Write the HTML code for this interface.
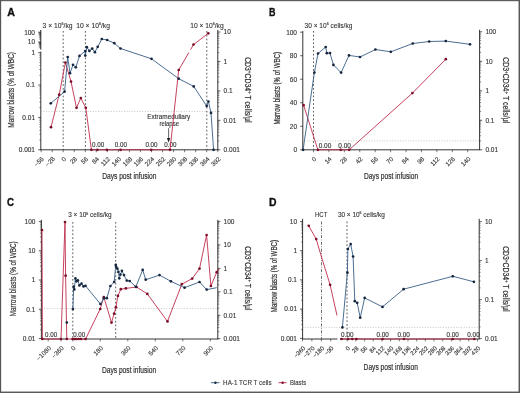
<!DOCTYPE html>
<html><head><meta charset="utf-8"><style>
html,body{margin:0;padding:0;background:#fff;}
body{width:520px;height:393px;overflow:hidden;position:relative;}
svg{position:absolute;left:0;top:0;font-family:"Liberation Sans", sans-serif;will-change:transform;}
.frame{position:absolute;left:0;top:0;width:520px;height:393px;box-sizing:border-box;border-top:1.2px solid #626262;border-left:1.1px solid #585858;border-right:1.4px solid #5a5a5a;border-bottom:1.4px solid #5c5c5c;}
</style></head><body>
<svg width="520" height="393" viewBox="0 0 520 393">
<rect x="0" y="0" width="520" height="393" fill="#ffffff"/>
<text x="7.2" y="15.8" font-size="11.0" text-anchor="start" font-weight="bold" fill="#111" stroke="#111" stroke-width="0.35" textLength="7.7" lengthAdjust="spacingAndGlyphs">A</text>
<line x1="40.8" y1="30.0" x2="40.8" y2="49.6" stroke="#1e1e1e" stroke-width="1.0"/>
<line x1="40.8" y1="51.6" x2="40.8" y2="149.8" stroke="#1e1e1e" stroke-width="0.9"/>
<line x1="38.8" y1="39.05" x2="40.8" y2="39.05" stroke="#1e1e1e" stroke-width="0.5"/>
<line x1="38.8" y1="37.32" x2="40.8" y2="37.32" stroke="#1e1e1e" stroke-width="0.5"/>
<line x1="38.8" y1="36.1" x2="40.8" y2="36.1" stroke="#1e1e1e" stroke-width="0.5"/>
<line x1="38.8" y1="35.15" x2="40.8" y2="35.15" stroke="#1e1e1e" stroke-width="0.5"/>
<line x1="38.8" y1="34.37" x2="40.8" y2="34.37" stroke="#1e1e1e" stroke-width="0.5"/>
<line x1="38.8" y1="33.72" x2="40.8" y2="33.72" stroke="#1e1e1e" stroke-width="0.5"/>
<line x1="38.8" y1="33.15" x2="40.8" y2="33.15" stroke="#1e1e1e" stroke-width="0.5"/>
<line x1="38.8" y1="32.65" x2="40.8" y2="32.65" stroke="#1e1e1e" stroke-width="0.5"/>
<line x1="38.8" y1="47.73" x2="40.8" y2="47.73" stroke="#1e1e1e" stroke-width="0.5"/>
<line x1="38.8" y1="46.29" x2="40.8" y2="46.29" stroke="#1e1e1e" stroke-width="0.5"/>
<line x1="38.8" y1="45.26" x2="40.8" y2="45.26" stroke="#1e1e1e" stroke-width="0.5"/>
<line x1="38.8" y1="44.47" x2="40.8" y2="44.47" stroke="#1e1e1e" stroke-width="0.5"/>
<line x1="38.8" y1="43.82" x2="40.8" y2="43.82" stroke="#1e1e1e" stroke-width="0.5"/>
<line x1="38.8" y1="43.27" x2="40.8" y2="43.27" stroke="#1e1e1e" stroke-width="0.5"/>
<line x1="38.8" y1="42.79" x2="40.8" y2="42.79" stroke="#1e1e1e" stroke-width="0.5"/>
<line x1="38.8" y1="42.38" x2="40.8" y2="42.38" stroke="#1e1e1e" stroke-width="0.5"/>
<line x1="39.3" y1="75.25" x2="40.8" y2="75.25" stroke="#1e1e1e" stroke-width="0.5"/>
<line x1="39.3" y1="69.54" x2="40.8" y2="69.54" stroke="#1e1e1e" stroke-width="0.5"/>
<line x1="39.3" y1="65.49" x2="40.8" y2="65.49" stroke="#1e1e1e" stroke-width="0.5"/>
<line x1="39.3" y1="62.35" x2="40.8" y2="62.35" stroke="#1e1e1e" stroke-width="0.5"/>
<line x1="39.3" y1="59.79" x2="40.8" y2="59.79" stroke="#1e1e1e" stroke-width="0.5"/>
<line x1="39.3" y1="57.62" x2="40.8" y2="57.62" stroke="#1e1e1e" stroke-width="0.5"/>
<line x1="39.3" y1="55.74" x2="40.8" y2="55.74" stroke="#1e1e1e" stroke-width="0.5"/>
<line x1="39.3" y1="54.08" x2="40.8" y2="54.08" stroke="#1e1e1e" stroke-width="0.5"/>
<line x1="39.3" y1="107.65" x2="40.8" y2="107.65" stroke="#1e1e1e" stroke-width="0.5"/>
<line x1="39.3" y1="101.94" x2="40.8" y2="101.94" stroke="#1e1e1e" stroke-width="0.5"/>
<line x1="39.3" y1="97.89" x2="40.8" y2="97.89" stroke="#1e1e1e" stroke-width="0.5"/>
<line x1="39.3" y1="94.75" x2="40.8" y2="94.75" stroke="#1e1e1e" stroke-width="0.5"/>
<line x1="39.3" y1="92.19" x2="40.8" y2="92.19" stroke="#1e1e1e" stroke-width="0.5"/>
<line x1="39.3" y1="90.02" x2="40.8" y2="90.02" stroke="#1e1e1e" stroke-width="0.5"/>
<line x1="39.3" y1="88.14" x2="40.8" y2="88.14" stroke="#1e1e1e" stroke-width="0.5"/>
<line x1="39.3" y1="86.48" x2="40.8" y2="86.48" stroke="#1e1e1e" stroke-width="0.5"/>
<line x1="39.3" y1="140.05" x2="40.8" y2="140.05" stroke="#1e1e1e" stroke-width="0.5"/>
<line x1="39.3" y1="134.34" x2="40.8" y2="134.34" stroke="#1e1e1e" stroke-width="0.5"/>
<line x1="39.3" y1="130.29" x2="40.8" y2="130.29" stroke="#1e1e1e" stroke-width="0.5"/>
<line x1="39.3" y1="127.15" x2="40.8" y2="127.15" stroke="#1e1e1e" stroke-width="0.5"/>
<line x1="39.3" y1="124.59" x2="40.8" y2="124.59" stroke="#1e1e1e" stroke-width="0.5"/>
<line x1="39.3" y1="122.42" x2="40.8" y2="122.42" stroke="#1e1e1e" stroke-width="0.5"/>
<line x1="39.3" y1="120.54" x2="40.8" y2="120.54" stroke="#1e1e1e" stroke-width="0.5"/>
<line x1="39.3" y1="118.88" x2="40.8" y2="118.88" stroke="#1e1e1e" stroke-width="0.5"/>
<line x1="38.199999999999996" y1="32.2" x2="40.8" y2="32.2" stroke="#1e1e1e" stroke-width="0.7"/>
<line x1="38.199999999999996" y1="42.0" x2="40.8" y2="42.0" stroke="#1e1e1e" stroke-width="0.7"/>
<line x1="38.199999999999996" y1="52.6" x2="40.8" y2="52.6" stroke="#1e1e1e" stroke-width="0.7"/>
<line x1="38.199999999999996" y1="85.0" x2="40.8" y2="85.0" stroke="#1e1e1e" stroke-width="0.7"/>
<line x1="38.199999999999996" y1="117.4" x2="40.8" y2="117.4" stroke="#1e1e1e" stroke-width="0.7"/>
<line x1="38.199999999999996" y1="149.8" x2="40.8" y2="149.8" stroke="#1e1e1e" stroke-width="0.7"/>
<text x="35.0" y="34.5" font-size="6.5" text-anchor="end" font-weight="normal" fill="#333333" stroke="#333333" stroke-width="0.12">100</text>
<text x="35.0" y="44.3" font-size="6.5" text-anchor="end" font-weight="normal" fill="#333333" stroke="#333333" stroke-width="0.12">10</text>
<text x="35.0" y="54.9" font-size="6.5" text-anchor="end" font-weight="normal" fill="#333333" stroke="#333333" stroke-width="0.12">1</text>
<text x="35.0" y="87.3" font-size="6.5" text-anchor="end" font-weight="normal" fill="#333333" stroke="#333333" stroke-width="0.12">0.1</text>
<text x="35.0" y="119.7" font-size="6.5" text-anchor="end" font-weight="normal" fill="#333333" stroke="#333333" stroke-width="0.12">0.01</text>
<text x="35.0" y="152.1" font-size="6.5" text-anchor="end" font-weight="normal" fill="#333333" stroke="#333333" stroke-width="0.12">0.001</text>
<line x1="217.8" y1="29.8" x2="217.8" y2="149.8" stroke="#1e1e1e" stroke-width="0.9"/>
<line x1="217.8" y1="52.58" x2="219.3" y2="52.58" stroke="#1e1e1e" stroke-width="0.5"/>
<line x1="217.8" y1="47.4" x2="219.3" y2="47.4" stroke="#1e1e1e" stroke-width="0.5"/>
<line x1="217.8" y1="43.72" x2="219.3" y2="43.72" stroke="#1e1e1e" stroke-width="0.5"/>
<line x1="217.8" y1="40.87" x2="219.3" y2="40.87" stroke="#1e1e1e" stroke-width="0.5"/>
<line x1="217.8" y1="38.53" x2="219.3" y2="38.53" stroke="#1e1e1e" stroke-width="0.5"/>
<line x1="217.8" y1="36.56" x2="219.3" y2="36.56" stroke="#1e1e1e" stroke-width="0.5"/>
<line x1="217.8" y1="34.85" x2="219.3" y2="34.85" stroke="#1e1e1e" stroke-width="0.5"/>
<line x1="217.8" y1="33.35" x2="219.3" y2="33.35" stroke="#1e1e1e" stroke-width="0.5"/>
<line x1="217.8" y1="82.03" x2="219.3" y2="82.03" stroke="#1e1e1e" stroke-width="0.5"/>
<line x1="217.8" y1="76.85" x2="219.3" y2="76.85" stroke="#1e1e1e" stroke-width="0.5"/>
<line x1="217.8" y1="73.17" x2="219.3" y2="73.17" stroke="#1e1e1e" stroke-width="0.5"/>
<line x1="217.8" y1="70.32" x2="219.3" y2="70.32" stroke="#1e1e1e" stroke-width="0.5"/>
<line x1="217.8" y1="67.98" x2="219.3" y2="67.98" stroke="#1e1e1e" stroke-width="0.5"/>
<line x1="217.8" y1="66.01" x2="219.3" y2="66.01" stroke="#1e1e1e" stroke-width="0.5"/>
<line x1="217.8" y1="64.3" x2="219.3" y2="64.3" stroke="#1e1e1e" stroke-width="0.5"/>
<line x1="217.8" y1="62.8" x2="219.3" y2="62.8" stroke="#1e1e1e" stroke-width="0.5"/>
<line x1="217.8" y1="111.48" x2="219.3" y2="111.48" stroke="#1e1e1e" stroke-width="0.5"/>
<line x1="217.8" y1="106.3" x2="219.3" y2="106.3" stroke="#1e1e1e" stroke-width="0.5"/>
<line x1="217.8" y1="102.62" x2="219.3" y2="102.62" stroke="#1e1e1e" stroke-width="0.5"/>
<line x1="217.8" y1="99.77" x2="219.3" y2="99.77" stroke="#1e1e1e" stroke-width="0.5"/>
<line x1="217.8" y1="97.43" x2="219.3" y2="97.43" stroke="#1e1e1e" stroke-width="0.5"/>
<line x1="217.8" y1="95.46" x2="219.3" y2="95.46" stroke="#1e1e1e" stroke-width="0.5"/>
<line x1="217.8" y1="93.75" x2="219.3" y2="93.75" stroke="#1e1e1e" stroke-width="0.5"/>
<line x1="217.8" y1="92.25" x2="219.3" y2="92.25" stroke="#1e1e1e" stroke-width="0.5"/>
<line x1="217.8" y1="140.93" x2="219.3" y2="140.93" stroke="#1e1e1e" stroke-width="0.5"/>
<line x1="217.8" y1="135.75" x2="219.3" y2="135.75" stroke="#1e1e1e" stroke-width="0.5"/>
<line x1="217.8" y1="132.07" x2="219.3" y2="132.07" stroke="#1e1e1e" stroke-width="0.5"/>
<line x1="217.8" y1="129.22" x2="219.3" y2="129.22" stroke="#1e1e1e" stroke-width="0.5"/>
<line x1="217.8" y1="126.88" x2="219.3" y2="126.88" stroke="#1e1e1e" stroke-width="0.5"/>
<line x1="217.8" y1="124.91" x2="219.3" y2="124.91" stroke="#1e1e1e" stroke-width="0.5"/>
<line x1="217.8" y1="123.2" x2="219.3" y2="123.2" stroke="#1e1e1e" stroke-width="0.5"/>
<line x1="217.8" y1="121.7" x2="219.3" y2="121.7" stroke="#1e1e1e" stroke-width="0.5"/>
<line x1="217.8" y1="32.0" x2="220.4" y2="32.0" stroke="#1e1e1e" stroke-width="0.7"/>
<line x1="217.8" y1="61.45" x2="220.4" y2="61.45" stroke="#1e1e1e" stroke-width="0.7"/>
<line x1="217.8" y1="90.9" x2="220.4" y2="90.9" stroke="#1e1e1e" stroke-width="0.7"/>
<line x1="217.8" y1="120.35" x2="220.4" y2="120.35" stroke="#1e1e1e" stroke-width="0.7"/>
<line x1="217.8" y1="149.8" x2="220.4" y2="149.8" stroke="#1e1e1e" stroke-width="0.7"/>
<text x="223.6" y="34.3" font-size="6.5" text-anchor="start" font-weight="normal" fill="#333333" stroke="#333333" stroke-width="0.12">10</text>
<text x="223.6" y="63.75" font-size="6.5" text-anchor="start" font-weight="normal" fill="#333333" stroke="#333333" stroke-width="0.12">1</text>
<text x="223.6" y="93.2" font-size="6.5" text-anchor="start" font-weight="normal" fill="#333333" stroke="#333333" stroke-width="0.12">0.1</text>
<text x="223.6" y="122.65" font-size="6.5" text-anchor="start" font-weight="normal" fill="#333333" stroke="#333333" stroke-width="0.12">0.01</text>
<text x="223.6" y="152.1" font-size="6.5" text-anchor="start" font-weight="normal" fill="#333333" stroke="#333333" stroke-width="0.12">0.001</text>
<line x1="40.349999999999994" y1="149.8" x2="218.25" y2="149.8" stroke="#1e1e1e" stroke-width="0.9"/>
<text x="44.32" y="159.4" font-size="6.3" text-anchor="end" font-weight="normal" fill="#333333" stroke="#333333" stroke-width="0.12" transform="rotate(-45 44.32 159.4)">−56</text>
<line x1="41.12" y1="149.8" x2="41.12" y2="152.20000000000002" stroke="#1e1e1e" stroke-width="0.6"/>
<text x="55.36" y="159.4" font-size="6.3" text-anchor="end" font-weight="normal" fill="#333333" stroke="#333333" stroke-width="0.12" transform="rotate(-45 55.36 159.4)">−28</text>
<line x1="52.16" y1="149.8" x2="52.16" y2="152.20000000000002" stroke="#1e1e1e" stroke-width="0.6"/>
<text x="66.4" y="159.4" font-size="6.3" text-anchor="end" font-weight="normal" fill="#333333" stroke="#333333" stroke-width="0.12" transform="rotate(-45 66.4 159.4)">0</text>
<line x1="63.2" y1="149.8" x2="63.2" y2="152.20000000000002" stroke="#1e1e1e" stroke-width="0.6"/>
<text x="77.44" y="159.4" font-size="6.3" text-anchor="end" font-weight="normal" fill="#333333" stroke="#333333" stroke-width="0.12" transform="rotate(-45 77.44 159.4)">28</text>
<line x1="74.24" y1="149.8" x2="74.24" y2="152.20000000000002" stroke="#1e1e1e" stroke-width="0.6"/>
<text x="88.48" y="159.4" font-size="6.3" text-anchor="end" font-weight="normal" fill="#333333" stroke="#333333" stroke-width="0.12" transform="rotate(-45 88.48 159.4)">56</text>
<line x1="85.28" y1="149.8" x2="85.28" y2="152.20000000000002" stroke="#1e1e1e" stroke-width="0.6"/>
<text x="99.51" y="159.4" font-size="6.3" text-anchor="end" font-weight="normal" fill="#333333" stroke="#333333" stroke-width="0.12" transform="rotate(-45 99.51 159.4)">84</text>
<line x1="96.31" y1="149.8" x2="96.31" y2="152.20000000000002" stroke="#1e1e1e" stroke-width="0.6"/>
<text x="110.55" y="159.4" font-size="6.3" text-anchor="end" font-weight="normal" fill="#333333" stroke="#333333" stroke-width="0.12" transform="rotate(-45 110.55 159.4)">112</text>
<line x1="107.35" y1="149.8" x2="107.35" y2="152.20000000000002" stroke="#1e1e1e" stroke-width="0.6"/>
<text x="121.59" y="159.4" font-size="6.3" text-anchor="end" font-weight="normal" fill="#333333" stroke="#333333" stroke-width="0.12" transform="rotate(-45 121.59 159.4)">140</text>
<line x1="118.39" y1="149.8" x2="118.39" y2="152.20000000000002" stroke="#1e1e1e" stroke-width="0.6"/>
<text x="132.63" y="159.4" font-size="6.3" text-anchor="end" font-weight="normal" fill="#333333" stroke="#333333" stroke-width="0.12" transform="rotate(-45 132.63 159.4)">168</text>
<line x1="129.43" y1="149.8" x2="129.43" y2="152.20000000000002" stroke="#1e1e1e" stroke-width="0.6"/>
<text x="143.66" y="159.4" font-size="6.3" text-anchor="end" font-weight="normal" fill="#333333" stroke="#333333" stroke-width="0.12" transform="rotate(-45 143.66 159.4)">196</text>
<line x1="140.46" y1="149.8" x2="140.46" y2="152.20000000000002" stroke="#1e1e1e" stroke-width="0.6"/>
<text x="154.7" y="159.4" font-size="6.3" text-anchor="end" font-weight="normal" fill="#333333" stroke="#333333" stroke-width="0.12" transform="rotate(-45 154.7 159.4)">224</text>
<line x1="151.5" y1="149.8" x2="151.5" y2="152.20000000000002" stroke="#1e1e1e" stroke-width="0.6"/>
<text x="165.74" y="159.4" font-size="6.3" text-anchor="end" font-weight="normal" fill="#333333" stroke="#333333" stroke-width="0.12" transform="rotate(-45 165.74 159.4)">252</text>
<line x1="162.54" y1="149.8" x2="162.54" y2="152.20000000000002" stroke="#1e1e1e" stroke-width="0.6"/>
<text x="176.78" y="159.4" font-size="6.3" text-anchor="end" font-weight="normal" fill="#333333" stroke="#333333" stroke-width="0.12" transform="rotate(-45 176.78 159.4)">280</text>
<line x1="173.58" y1="149.8" x2="173.58" y2="152.20000000000002" stroke="#1e1e1e" stroke-width="0.6"/>
<text x="187.81" y="159.4" font-size="6.3" text-anchor="end" font-weight="normal" fill="#333333" stroke="#333333" stroke-width="0.12" transform="rotate(-45 187.81 159.4)">308</text>
<line x1="184.61" y1="149.8" x2="184.61" y2="152.20000000000002" stroke="#1e1e1e" stroke-width="0.6"/>
<text x="198.85" y="159.4" font-size="6.3" text-anchor="end" font-weight="normal" fill="#333333" stroke="#333333" stroke-width="0.12" transform="rotate(-45 198.85 159.4)">336</text>
<line x1="195.65" y1="149.8" x2="195.65" y2="152.20000000000002" stroke="#1e1e1e" stroke-width="0.6"/>
<text x="209.89" y="159.4" font-size="6.3" text-anchor="end" font-weight="normal" fill="#333333" stroke="#333333" stroke-width="0.12" transform="rotate(-45 209.89 159.4)">364</text>
<line x1="206.69" y1="149.8" x2="206.69" y2="152.20000000000002" stroke="#1e1e1e" stroke-width="0.6"/>
<text x="220.93" y="159.4" font-size="6.3" text-anchor="end" font-weight="normal" fill="#333333" stroke="#333333" stroke-width="0.12" transform="rotate(-45 220.93 159.4)">392</text>
<line x1="217.73" y1="149.8" x2="217.73" y2="152.20000000000002" stroke="#1e1e1e" stroke-width="0.6"/>
<line x1="63.2" y1="31" x2="63.2" y2="149.8" stroke="#3c3c3c" stroke-width="0.85" stroke-dasharray="1.7 2.1"/>
<line x1="85.4" y1="31" x2="85.4" y2="149.8" stroke="#3c3c3c" stroke-width="0.85" stroke-dasharray="1.7 2.1"/>
<line x1="206.8" y1="31" x2="206.8" y2="149.8" stroke="#3c3c3c" stroke-width="0.85" stroke-dasharray="1.7 2.1"/>
<line x1="40.8" y1="111.5" x2="217.8" y2="111.5" stroke="#a9a59c" stroke-width="0.6" stroke-dasharray="1 1.6"/>
<text x="42.6" y="27.6" font-size="7.2" fill="#333333" stroke="#333333" stroke-width="0.12" textLength="29.9" lengthAdjust="spacingAndGlyphs">3 × 10<tspan font-size="3.9600000000000004" dy="-2.9">6</tspan><tspan dy="2.9">/kg</tspan></text>
<text x="76.2" y="27.6" font-size="7.2" fill="#333333" stroke="#333333" stroke-width="0.12" textLength="33.8" lengthAdjust="spacingAndGlyphs">10 × 10<tspan font-size="3.9600000000000004" dy="-2.9">6</tspan><tspan dy="2.9">/kg</tspan></text>
<text x="190.2" y="27.6" font-size="7.2" fill="#333333" stroke="#333333" stroke-width="0.12" textLength="33.5" lengthAdjust="spacingAndGlyphs">10 × 10<tspan font-size="3.9600000000000004" dy="-2.9">6</tspan><tspan dy="2.9">/kg</tspan></text>
<text x="168.8" y="118.6" font-size="7.0" text-anchor="middle" font-weight="normal" fill="#333333" stroke="#333333" stroke-width="0.12" textLength="43" lengthAdjust="spacingAndGlyphs">Extramedullary</text>
<text x="169.2" y="126.0" font-size="7.0" text-anchor="middle" font-weight="normal" fill="#333333" stroke="#333333" stroke-width="0.12" textLength="19.5" lengthAdjust="spacingAndGlyphs">relapse</text>
<line x1="168.6" y1="128.2" x2="168.6" y2="139.0" stroke="#222" stroke-width="0.7"/>
<path d="M166.9,137.9 L168.6,142.4 L170.3,137.9 Z" fill="#222"/>
<text x="98.2" y="146.5" font-size="6.5" text-anchor="middle" font-weight="normal" fill="#333333" stroke="#333333" stroke-width="0.12" textLength="12.2" lengthAdjust="spacingAndGlyphs">0.00</text>
<text x="120.8" y="146.5" font-size="6.5" text-anchor="middle" font-weight="normal" fill="#333333" stroke="#333333" stroke-width="0.12" textLength="12.2" lengthAdjust="spacingAndGlyphs">0.00</text>
<text x="151.5" y="146.5" font-size="6.5" text-anchor="middle" font-weight="normal" fill="#333333" stroke="#333333" stroke-width="0.12" textLength="12.2" lengthAdjust="spacingAndGlyphs">0.00</text>
<text x="170.3" y="146.5" font-size="6.5" text-anchor="middle" font-weight="normal" fill="#333333" stroke="#333333" stroke-width="0.12" textLength="12.2" lengthAdjust="spacingAndGlyphs">0.00</text>
<text x="129.3" y="179.1" font-size="8.4" text-anchor="middle" font-weight="normal" fill="#333333" stroke="#333333" stroke-width="0.2" textLength="54.2" lengthAdjust="spacingAndGlyphs">Days post infusion</text>
<text x="14.2" y="89.9" font-size="8.4" text-anchor="middle" font-weight="normal" fill="#333333" stroke="#333333" stroke-width="0.2" textLength="75.6" lengthAdjust="spacingAndGlyphs" transform="rotate(-90 14.2 89.9)">Marrow blasts (% of WBC)</text>
<polyline points="51.0,127.2 59.2,94.7 65.4,62.5 71.0,81.6 76.5,107.8 80.8,98.0 85.8,107.8 91.4,149.8 97.4,149.8 106.9,149.8 120.6,149.8 151.2,149.8 170.0,149.8 178.7,70.0 193.5,44.6 208.3,33.3" fill="none" stroke="#c02c4c" stroke-width="0.9" stroke-linejoin="round"/>
<line x1="188.9" y1="52.6" x2="190.6" y2="49.6" stroke="#fff" stroke-width="1.8"/>
<polyline points="50.8,103.3 64.6,91.6 67.7,57.0 70.0,73.2 73.0,64.8 75.8,67.3 79.5,55.9 85.2,51.1 85.3,55.6 86.8,47.2 89.4,50.9 92.2,48.6 94.9,52.2 97.7,46.8 101.8,39.0 107.2,40.0 114.3,43.2 120.5,48.5 151.5,58.8 178.7,78.7 193.7,86.4 206.7,106.0 208.4,101.5 211.0,112.9 213.6,149.8" fill="none" stroke="#375d84" stroke-width="0.9" stroke-linejoin="round"/>
<circle cx="51.0" cy="127.2" r="1.35" fill="#7a1028"/>
<circle cx="59.2" cy="94.7" r="1.35" fill="#7a1028"/>
<circle cx="65.4" cy="62.5" r="1.35" fill="#7a1028"/>
<circle cx="71.0" cy="81.6" r="1.35" fill="#7a1028"/>
<circle cx="76.5" cy="107.8" r="1.35" fill="#7a1028"/>
<circle cx="80.8" cy="98.0" r="1.35" fill="#7a1028"/>
<circle cx="85.8" cy="107.8" r="1.35" fill="#7a1028"/>
<circle cx="91.4" cy="149.8" r="1.35" fill="#7a1028"/>
<circle cx="97.4" cy="149.8" r="1.35" fill="#7a1028"/>
<circle cx="106.9" cy="149.8" r="1.35" fill="#7a1028"/>
<circle cx="120.6" cy="149.8" r="1.35" fill="#7a1028"/>
<circle cx="151.2" cy="149.8" r="1.35" fill="#7a1028"/>
<circle cx="170.0" cy="149.8" r="1.35" fill="#7a1028"/>
<circle cx="178.7" cy="70.0" r="1.35" fill="#7a1028"/>
<circle cx="193.5" cy="44.6" r="1.35" fill="#7a1028"/>
<circle cx="208.3" cy="33.3" r="1.35" fill="#7a1028"/>
<circle cx="50.8" cy="103.3" r="1.35" fill="#15263e"/>
<circle cx="64.6" cy="91.6" r="1.35" fill="#15263e"/>
<circle cx="67.7" cy="57.0" r="1.35" fill="#15263e"/>
<circle cx="70.0" cy="73.2" r="1.35" fill="#15263e"/>
<circle cx="73.0" cy="64.8" r="1.35" fill="#15263e"/>
<circle cx="75.8" cy="67.3" r="1.35" fill="#15263e"/>
<circle cx="79.5" cy="55.9" r="1.35" fill="#15263e"/>
<circle cx="85.2" cy="51.1" r="1.35" fill="#15263e"/>
<circle cx="85.3" cy="55.6" r="1.35" fill="#15263e"/>
<circle cx="86.8" cy="47.2" r="1.35" fill="#15263e"/>
<circle cx="89.4" cy="50.9" r="1.35" fill="#15263e"/>
<circle cx="92.2" cy="48.6" r="1.35" fill="#15263e"/>
<circle cx="94.9" cy="52.2" r="1.35" fill="#15263e"/>
<circle cx="97.7" cy="46.8" r="1.35" fill="#15263e"/>
<circle cx="101.8" cy="39.0" r="1.35" fill="#15263e"/>
<circle cx="107.2" cy="40.0" r="1.35" fill="#15263e"/>
<circle cx="114.3" cy="43.2" r="1.35" fill="#15263e"/>
<circle cx="120.5" cy="48.5" r="1.35" fill="#15263e"/>
<circle cx="151.5" cy="58.8" r="1.35" fill="#15263e"/>
<circle cx="178.7" cy="78.7" r="1.35" fill="#15263e"/>
<circle cx="193.7" cy="86.4" r="1.35" fill="#15263e"/>
<circle cx="206.7" cy="106.0" r="1.35" fill="#15263e"/>
<circle cx="208.4" cy="101.5" r="1.35" fill="#15263e"/>
<circle cx="211.0" cy="112.9" r="1.35" fill="#15263e"/>
<circle cx="213.6" cy="149.8" r="1.35" fill="#15263e"/>
<text x="245.2" y="89.8" font-size="8.4" text-anchor="middle" font-weight="normal" fill="#333333" stroke="#333333" stroke-width="0.2" textLength="65.3" lengthAdjust="spacingAndGlyphs" transform="rotate(90 245.2 89.8)">CD3<tspan font-size="5.6" dy="-2.6">+</tspan><tspan dy="2.6">CD34</tspan><tspan font-size="5.6" dy="-2.6">+</tspan><tspan dy="2.6"> T cells/μl</tspan></text>
<text x="269.0" y="15.8" font-size="11.0" text-anchor="start" font-weight="bold" fill="#111" stroke="#111" stroke-width="0.35" textLength="6.5" lengthAdjust="spacingAndGlyphs">B</text>
<line x1="302.8" y1="31.0" x2="302.8" y2="149.8" stroke="#1e1e1e" stroke-width="0.9"/>
<line x1="300.2" y1="149.8" x2="302.8" y2="149.8" stroke="#1e1e1e" stroke-width="0.7"/>
<line x1="300.2" y1="126.28" x2="302.8" y2="126.28" stroke="#1e1e1e" stroke-width="0.7"/>
<line x1="300.2" y1="102.76" x2="302.8" y2="102.76" stroke="#1e1e1e" stroke-width="0.7"/>
<line x1="300.2" y1="79.24" x2="302.8" y2="79.24" stroke="#1e1e1e" stroke-width="0.7"/>
<line x1="300.2" y1="55.72" x2="302.8" y2="55.72" stroke="#1e1e1e" stroke-width="0.7"/>
<line x1="300.2" y1="32.2" x2="302.8" y2="32.2" stroke="#1e1e1e" stroke-width="0.7"/>
<text x="297.0" y="152.1" font-size="6.5" text-anchor="end" font-weight="normal" fill="#333333" stroke="#333333" stroke-width="0.12">0</text>
<text x="297.0" y="128.58" font-size="6.5" text-anchor="end" font-weight="normal" fill="#333333" stroke="#333333" stroke-width="0.12">20</text>
<text x="297.0" y="105.06" font-size="6.5" text-anchor="end" font-weight="normal" fill="#333333" stroke="#333333" stroke-width="0.12">40</text>
<text x="297.0" y="81.54" font-size="6.5" text-anchor="end" font-weight="normal" fill="#333333" stroke="#333333" stroke-width="0.12">60</text>
<text x="297.0" y="58.02" font-size="6.5" text-anchor="end" font-weight="normal" fill="#333333" stroke="#333333" stroke-width="0.12">80</text>
<text x="297.0" y="34.5" font-size="6.5" text-anchor="end" font-weight="normal" fill="#333333" stroke="#333333" stroke-width="0.12">100</text>
<line x1="479.6" y1="29.8" x2="479.6" y2="149.8" stroke="#1e1e1e" stroke-width="0.9"/>
<line x1="479.6" y1="52.42" x2="481.1" y2="52.42" stroke="#1e1e1e" stroke-width="0.5"/>
<line x1="479.6" y1="47.22" x2="481.1" y2="47.22" stroke="#1e1e1e" stroke-width="0.5"/>
<line x1="479.6" y1="43.54" x2="481.1" y2="43.54" stroke="#1e1e1e" stroke-width="0.5"/>
<line x1="479.6" y1="40.68" x2="481.1" y2="40.68" stroke="#1e1e1e" stroke-width="0.5"/>
<line x1="479.6" y1="38.34" x2="481.1" y2="38.34" stroke="#1e1e1e" stroke-width="0.5"/>
<line x1="479.6" y1="36.37" x2="481.1" y2="36.37" stroke="#1e1e1e" stroke-width="0.5"/>
<line x1="479.6" y1="34.66" x2="481.1" y2="34.66" stroke="#1e1e1e" stroke-width="0.5"/>
<line x1="479.6" y1="33.15" x2="481.1" y2="33.15" stroke="#1e1e1e" stroke-width="0.5"/>
<line x1="479.6" y1="81.92" x2="481.1" y2="81.92" stroke="#1e1e1e" stroke-width="0.5"/>
<line x1="479.6" y1="76.72" x2="481.1" y2="76.72" stroke="#1e1e1e" stroke-width="0.5"/>
<line x1="479.6" y1="73.04" x2="481.1" y2="73.04" stroke="#1e1e1e" stroke-width="0.5"/>
<line x1="479.6" y1="70.18" x2="481.1" y2="70.18" stroke="#1e1e1e" stroke-width="0.5"/>
<line x1="479.6" y1="67.84" x2="481.1" y2="67.84" stroke="#1e1e1e" stroke-width="0.5"/>
<line x1="479.6" y1="65.87" x2="481.1" y2="65.87" stroke="#1e1e1e" stroke-width="0.5"/>
<line x1="479.6" y1="64.16" x2="481.1" y2="64.16" stroke="#1e1e1e" stroke-width="0.5"/>
<line x1="479.6" y1="62.65" x2="481.1" y2="62.65" stroke="#1e1e1e" stroke-width="0.5"/>
<line x1="479.6" y1="111.42" x2="481.1" y2="111.42" stroke="#1e1e1e" stroke-width="0.5"/>
<line x1="479.6" y1="106.22" x2="481.1" y2="106.22" stroke="#1e1e1e" stroke-width="0.5"/>
<line x1="479.6" y1="102.54" x2="481.1" y2="102.54" stroke="#1e1e1e" stroke-width="0.5"/>
<line x1="479.6" y1="99.68" x2="481.1" y2="99.68" stroke="#1e1e1e" stroke-width="0.5"/>
<line x1="479.6" y1="97.34" x2="481.1" y2="97.34" stroke="#1e1e1e" stroke-width="0.5"/>
<line x1="479.6" y1="95.37" x2="481.1" y2="95.37" stroke="#1e1e1e" stroke-width="0.5"/>
<line x1="479.6" y1="93.66" x2="481.1" y2="93.66" stroke="#1e1e1e" stroke-width="0.5"/>
<line x1="479.6" y1="92.15" x2="481.1" y2="92.15" stroke="#1e1e1e" stroke-width="0.5"/>
<line x1="479.6" y1="140.92" x2="481.1" y2="140.92" stroke="#1e1e1e" stroke-width="0.5"/>
<line x1="479.6" y1="135.72" x2="481.1" y2="135.72" stroke="#1e1e1e" stroke-width="0.5"/>
<line x1="479.6" y1="132.04" x2="481.1" y2="132.04" stroke="#1e1e1e" stroke-width="0.5"/>
<line x1="479.6" y1="129.18" x2="481.1" y2="129.18" stroke="#1e1e1e" stroke-width="0.5"/>
<line x1="479.6" y1="126.84" x2="481.1" y2="126.84" stroke="#1e1e1e" stroke-width="0.5"/>
<line x1="479.6" y1="124.87" x2="481.1" y2="124.87" stroke="#1e1e1e" stroke-width="0.5"/>
<line x1="479.6" y1="123.16" x2="481.1" y2="123.16" stroke="#1e1e1e" stroke-width="0.5"/>
<line x1="479.6" y1="121.65" x2="481.1" y2="121.65" stroke="#1e1e1e" stroke-width="0.5"/>
<line x1="479.6" y1="31.8" x2="482.20000000000005" y2="31.8" stroke="#1e1e1e" stroke-width="0.7"/>
<line x1="479.6" y1="61.3" x2="482.20000000000005" y2="61.3" stroke="#1e1e1e" stroke-width="0.7"/>
<line x1="479.6" y1="90.8" x2="482.20000000000005" y2="90.8" stroke="#1e1e1e" stroke-width="0.7"/>
<line x1="479.6" y1="120.3" x2="482.20000000000005" y2="120.3" stroke="#1e1e1e" stroke-width="0.7"/>
<line x1="479.6" y1="149.8" x2="482.20000000000005" y2="149.8" stroke="#1e1e1e" stroke-width="0.7"/>
<text x="485.4" y="34.1" font-size="6.5" text-anchor="start" font-weight="normal" fill="#333333" stroke="#333333" stroke-width="0.12">100</text>
<text x="485.4" y="63.6" font-size="6.5" text-anchor="start" font-weight="normal" fill="#333333" stroke="#333333" stroke-width="0.12">10</text>
<text x="485.4" y="93.1" font-size="6.5" text-anchor="start" font-weight="normal" fill="#333333" stroke="#333333" stroke-width="0.12">1</text>
<text x="485.4" y="122.6" font-size="6.5" text-anchor="start" font-weight="normal" fill="#333333" stroke="#333333" stroke-width="0.12">0.1</text>
<text x="485.4" y="152.1" font-size="6.5" text-anchor="start" font-weight="normal" fill="#333333" stroke="#333333" stroke-width="0.12">0.01</text>
<line x1="302.35" y1="149.8" x2="480.05" y2="149.8" stroke="#1e1e1e" stroke-width="0.9"/>
<text x="316.7" y="159.4" font-size="6.3" text-anchor="end" font-weight="normal" fill="#333333" stroke="#333333" stroke-width="0.12" transform="rotate(-45 316.7 159.4)">0</text>
<line x1="313.5" y1="149.8" x2="313.5" y2="152.20000000000002" stroke="#1e1e1e" stroke-width="0.6"/>
<text x="332.12" y="159.4" font-size="6.3" text-anchor="end" font-weight="normal" fill="#333333" stroke="#333333" stroke-width="0.12" transform="rotate(-45 332.12 159.4)">14</text>
<line x1="328.92" y1="149.8" x2="328.92" y2="152.20000000000002" stroke="#1e1e1e" stroke-width="0.6"/>
<text x="347.54" y="159.4" font-size="6.3" text-anchor="end" font-weight="normal" fill="#333333" stroke="#333333" stroke-width="0.12" transform="rotate(-45 347.54 159.4)">28</text>
<line x1="344.34" y1="149.8" x2="344.34" y2="152.20000000000002" stroke="#1e1e1e" stroke-width="0.6"/>
<text x="362.96" y="159.4" font-size="6.3" text-anchor="end" font-weight="normal" fill="#333333" stroke="#333333" stroke-width="0.12" transform="rotate(-45 362.96 159.4)">42</text>
<line x1="359.76" y1="149.8" x2="359.76" y2="152.20000000000002" stroke="#1e1e1e" stroke-width="0.6"/>
<text x="378.38" y="159.4" font-size="6.3" text-anchor="end" font-weight="normal" fill="#333333" stroke="#333333" stroke-width="0.12" transform="rotate(-45 378.38 159.4)">56</text>
<line x1="375.18" y1="149.8" x2="375.18" y2="152.20000000000002" stroke="#1e1e1e" stroke-width="0.6"/>
<text x="393.8" y="159.4" font-size="6.3" text-anchor="end" font-weight="normal" fill="#333333" stroke="#333333" stroke-width="0.12" transform="rotate(-45 393.8 159.4)">70</text>
<line x1="390.6" y1="149.8" x2="390.6" y2="152.20000000000002" stroke="#1e1e1e" stroke-width="0.6"/>
<text x="409.22" y="159.4" font-size="6.3" text-anchor="end" font-weight="normal" fill="#333333" stroke="#333333" stroke-width="0.12" transform="rotate(-45 409.22 159.4)">84</text>
<line x1="406.02" y1="149.8" x2="406.02" y2="152.20000000000002" stroke="#1e1e1e" stroke-width="0.6"/>
<text x="424.64" y="159.4" font-size="6.3" text-anchor="end" font-weight="normal" fill="#333333" stroke="#333333" stroke-width="0.12" transform="rotate(-45 424.64 159.4)">98</text>
<line x1="421.44" y1="149.8" x2="421.44" y2="152.20000000000002" stroke="#1e1e1e" stroke-width="0.6"/>
<text x="440.06" y="159.4" font-size="6.3" text-anchor="end" font-weight="normal" fill="#333333" stroke="#333333" stroke-width="0.12" transform="rotate(-45 440.06 159.4)">112</text>
<line x1="436.86" y1="149.8" x2="436.86" y2="152.20000000000002" stroke="#1e1e1e" stroke-width="0.6"/>
<text x="455.48" y="159.4" font-size="6.3" text-anchor="end" font-weight="normal" fill="#333333" stroke="#333333" stroke-width="0.12" transform="rotate(-45 455.48 159.4)">126</text>
<line x1="452.28" y1="149.8" x2="452.28" y2="152.20000000000002" stroke="#1e1e1e" stroke-width="0.6"/>
<text x="470.9" y="159.4" font-size="6.3" text-anchor="end" font-weight="normal" fill="#333333" stroke="#333333" stroke-width="0.12" transform="rotate(-45 470.9 159.4)">140</text>
<line x1="467.7" y1="149.8" x2="467.7" y2="152.20000000000002" stroke="#1e1e1e" stroke-width="0.6"/>
<line x1="313.5" y1="31" x2="313.5" y2="149.8" stroke="#3c3c3c" stroke-width="0.85" stroke-dasharray="1.7 2.1"/>
<line x1="306.5" y1="140.9" x2="479.6" y2="140.9" stroke="#a9a59c" stroke-width="0.6" stroke-dasharray="1 1.6"/>
<text x="304.6" y="28.2" font-size="7.2" fill="#333333" stroke="#333333" stroke-width="0.12" textLength="47.7" lengthAdjust="spacingAndGlyphs">30 × 10<tspan font-size="3.9600000000000004" dy="-2.9">6</tspan><tspan dy="2.9"> cells/kg</tspan></text>
<text x="325.0" y="147.6" font-size="6.5" text-anchor="middle" font-weight="normal" fill="#333333" stroke="#333333" stroke-width="0.12" textLength="12.6" lengthAdjust="spacingAndGlyphs">0.00</text>
<text x="344.6" y="147.6" font-size="6.5" text-anchor="middle" font-weight="normal" fill="#333333" stroke="#333333" stroke-width="0.12" textLength="12.6" lengthAdjust="spacingAndGlyphs">0.00</text>
<text x="391.0" y="179.0" font-size="8.4" text-anchor="middle" font-weight="normal" fill="#333333" stroke="#333333" stroke-width="0.2" textLength="54.2" lengthAdjust="spacingAndGlyphs">Days post infusion</text>
<text x="280.4" y="88.2" font-size="8.4" text-anchor="middle" font-weight="normal" fill="#333333" stroke="#333333" stroke-width="0.2" textLength="72.6" lengthAdjust="spacingAndGlyphs" transform="rotate(-90 280.4 88.2)">Marrow blasts (% of WBC)</text>
<text x="502.5" y="90.2" font-size="8.4" text-anchor="middle" font-weight="normal" fill="#333333" stroke="#333333" stroke-width="0.2" textLength="66.0" lengthAdjust="spacingAndGlyphs" transform="rotate(90 502.5 90.2)">CD3<tspan font-size="5.6" dy="-2.6">+</tspan><tspan dy="2.6">CD34</tspan><tspan font-size="5.6" dy="-2.6">+</tspan><tspan dy="2.6"> T cells/μl</tspan></text>
<polyline points="303.6,105.2 317.9,149.8 340.8,149.8 349.2,149.8 412.4,93.1 445.8,59.2" fill="none" stroke="#c02c4c" stroke-width="0.9" stroke-linejoin="round"/>
<polyline points="303.1,149.8 314.4,72.5 318.0,53.5 325.7,47.0 326.8,53.2 330.0,53.1 333.4,64.9 341.1,72.6 349.0,55.4 360.0,57.0 375.4,49.5 390.8,51.8 412.8,43.5 429.2,41.5 445.8,41.1 470.0,44.3" fill="none" stroke="#375d84" stroke-width="0.9" stroke-linejoin="round"/>
<circle cx="303.6" cy="105.2" r="1.35" fill="#7a1028"/>
<circle cx="317.9" cy="149.8" r="1.35" fill="#7a1028"/>
<circle cx="340.8" cy="149.8" r="1.35" fill="#7a1028"/>
<circle cx="349.2" cy="149.8" r="1.35" fill="#7a1028"/>
<circle cx="412.4" cy="93.1" r="1.35" fill="#7a1028"/>
<circle cx="445.8" cy="59.2" r="1.35" fill="#7a1028"/>
<circle cx="303.1" cy="149.8" r="1.35" fill="#15263e"/>
<circle cx="314.4" cy="72.5" r="1.35" fill="#15263e"/>
<circle cx="318.0" cy="53.5" r="1.35" fill="#15263e"/>
<circle cx="325.7" cy="47.0" r="1.35" fill="#15263e"/>
<circle cx="326.8" cy="53.2" r="1.35" fill="#15263e"/>
<circle cx="330.0" cy="53.1" r="1.35" fill="#15263e"/>
<circle cx="333.4" cy="64.9" r="1.35" fill="#15263e"/>
<circle cx="341.1" cy="72.6" r="1.35" fill="#15263e"/>
<circle cx="349.0" cy="55.4" r="1.35" fill="#15263e"/>
<circle cx="360.0" cy="57.0" r="1.35" fill="#15263e"/>
<circle cx="375.4" cy="49.5" r="1.35" fill="#15263e"/>
<circle cx="390.8" cy="51.8" r="1.35" fill="#15263e"/>
<circle cx="412.8" cy="43.5" r="1.35" fill="#15263e"/>
<circle cx="429.2" cy="41.5" r="1.35" fill="#15263e"/>
<circle cx="445.8" cy="41.1" r="1.35" fill="#15263e"/>
<circle cx="470.0" cy="44.3" r="1.35" fill="#15263e"/>
<text x="7.1" y="205.6" font-size="11.0" text-anchor="start" font-weight="bold" fill="#111" stroke="#111" stroke-width="0.35" textLength="7.0" lengthAdjust="spacingAndGlyphs">C</text>
<line x1="41.4" y1="219.8" x2="41.4" y2="339.0" stroke="#1e1e1e" stroke-width="0.9"/>
<line x1="39.9" y1="241.95" x2="41.4" y2="241.95" stroke="#1e1e1e" stroke-width="0.5"/>
<line x1="39.9" y1="236.77" x2="41.4" y2="236.77" stroke="#1e1e1e" stroke-width="0.5"/>
<line x1="39.9" y1="233.1" x2="41.4" y2="233.1" stroke="#1e1e1e" stroke-width="0.5"/>
<line x1="39.9" y1="230.25" x2="41.4" y2="230.25" stroke="#1e1e1e" stroke-width="0.5"/>
<line x1="39.9" y1="227.92" x2="41.4" y2="227.92" stroke="#1e1e1e" stroke-width="0.5"/>
<line x1="39.9" y1="225.95" x2="41.4" y2="225.95" stroke="#1e1e1e" stroke-width="0.5"/>
<line x1="39.9" y1="224.25" x2="41.4" y2="224.25" stroke="#1e1e1e" stroke-width="0.5"/>
<line x1="39.9" y1="222.75" x2="41.4" y2="222.75" stroke="#1e1e1e" stroke-width="0.5"/>
<line x1="39.9" y1="271.21" x2="41.4" y2="271.21" stroke="#1e1e1e" stroke-width="0.5"/>
<line x1="39.9" y1="266.07" x2="41.4" y2="266.07" stroke="#1e1e1e" stroke-width="0.5"/>
<line x1="39.9" y1="262.42" x2="41.4" y2="262.42" stroke="#1e1e1e" stroke-width="0.5"/>
<line x1="39.9" y1="259.59" x2="41.4" y2="259.59" stroke="#1e1e1e" stroke-width="0.5"/>
<line x1="39.9" y1="257.28" x2="41.4" y2="257.28" stroke="#1e1e1e" stroke-width="0.5"/>
<line x1="39.9" y1="255.32" x2="41.4" y2="255.32" stroke="#1e1e1e" stroke-width="0.5"/>
<line x1="39.9" y1="253.63" x2="41.4" y2="253.63" stroke="#1e1e1e" stroke-width="0.5"/>
<line x1="39.9" y1="252.14" x2="41.4" y2="252.14" stroke="#1e1e1e" stroke-width="0.5"/>
<line x1="39.9" y1="300.41" x2="41.4" y2="300.41" stroke="#1e1e1e" stroke-width="0.5"/>
<line x1="39.9" y1="295.27" x2="41.4" y2="295.27" stroke="#1e1e1e" stroke-width="0.5"/>
<line x1="39.9" y1="291.62" x2="41.4" y2="291.62" stroke="#1e1e1e" stroke-width="0.5"/>
<line x1="39.9" y1="288.79" x2="41.4" y2="288.79" stroke="#1e1e1e" stroke-width="0.5"/>
<line x1="39.9" y1="286.48" x2="41.4" y2="286.48" stroke="#1e1e1e" stroke-width="0.5"/>
<line x1="39.9" y1="284.52" x2="41.4" y2="284.52" stroke="#1e1e1e" stroke-width="0.5"/>
<line x1="39.9" y1="282.83" x2="41.4" y2="282.83" stroke="#1e1e1e" stroke-width="0.5"/>
<line x1="39.9" y1="281.34" x2="41.4" y2="281.34" stroke="#1e1e1e" stroke-width="0.5"/>
<line x1="39.9" y1="329.75" x2="41.4" y2="329.75" stroke="#1e1e1e" stroke-width="0.5"/>
<line x1="39.9" y1="324.57" x2="41.4" y2="324.57" stroke="#1e1e1e" stroke-width="0.5"/>
<line x1="39.9" y1="320.9" x2="41.4" y2="320.9" stroke="#1e1e1e" stroke-width="0.5"/>
<line x1="39.9" y1="318.05" x2="41.4" y2="318.05" stroke="#1e1e1e" stroke-width="0.5"/>
<line x1="39.9" y1="315.72" x2="41.4" y2="315.72" stroke="#1e1e1e" stroke-width="0.5"/>
<line x1="39.9" y1="313.75" x2="41.4" y2="313.75" stroke="#1e1e1e" stroke-width="0.5"/>
<line x1="39.9" y1="312.05" x2="41.4" y2="312.05" stroke="#1e1e1e" stroke-width="0.5"/>
<line x1="39.9" y1="310.55" x2="41.4" y2="310.55" stroke="#1e1e1e" stroke-width="0.5"/>
<line x1="38.8" y1="221.4" x2="41.4" y2="221.4" stroke="#1e1e1e" stroke-width="0.7"/>
<line x1="38.8" y1="250.8" x2="41.4" y2="250.8" stroke="#1e1e1e" stroke-width="0.7"/>
<line x1="38.8" y1="280.0" x2="41.4" y2="280.0" stroke="#1e1e1e" stroke-width="0.7"/>
<line x1="38.8" y1="309.2" x2="41.4" y2="309.2" stroke="#1e1e1e" stroke-width="0.7"/>
<line x1="38.8" y1="338.6" x2="41.4" y2="338.6" stroke="#1e1e1e" stroke-width="0.7"/>
<text x="35.4" y="223.7" font-size="6.5" text-anchor="end" font-weight="normal" fill="#333333" stroke="#333333" stroke-width="0.12">100</text>
<text x="35.4" y="253.1" font-size="6.5" text-anchor="end" font-weight="normal" fill="#333333" stroke="#333333" stroke-width="0.12">10</text>
<text x="35.4" y="282.3" font-size="6.5" text-anchor="end" font-weight="normal" fill="#333333" stroke="#333333" stroke-width="0.12">1</text>
<text x="35.4" y="311.5" font-size="6.5" text-anchor="end" font-weight="normal" fill="#333333" stroke="#333333" stroke-width="0.12">0.1</text>
<text x="35.4" y="340.9" font-size="6.5" text-anchor="end" font-weight="normal" fill="#333333" stroke="#333333" stroke-width="0.12">0.01</text>
<line x1="217.8" y1="219.8" x2="217.8" y2="339.0" stroke="#1e1e1e" stroke-width="0.9"/>
<line x1="217.8" y1="237.83" x2="219.3" y2="237.83" stroke="#1e1e1e" stroke-width="0.5"/>
<line x1="217.8" y1="233.69" x2="219.3" y2="233.69" stroke="#1e1e1e" stroke-width="0.5"/>
<line x1="217.8" y1="230.75" x2="219.3" y2="230.75" stroke="#1e1e1e" stroke-width="0.5"/>
<line x1="217.8" y1="228.47" x2="219.3" y2="228.47" stroke="#1e1e1e" stroke-width="0.5"/>
<line x1="217.8" y1="226.61" x2="219.3" y2="226.61" stroke="#1e1e1e" stroke-width="0.5"/>
<line x1="217.8" y1="225.04" x2="219.3" y2="225.04" stroke="#1e1e1e" stroke-width="0.5"/>
<line x1="217.8" y1="223.68" x2="219.3" y2="223.68" stroke="#1e1e1e" stroke-width="0.5"/>
<line x1="217.8" y1="222.48" x2="219.3" y2="222.48" stroke="#1e1e1e" stroke-width="0.5"/>
<line x1="217.8" y1="261.29" x2="219.3" y2="261.29" stroke="#1e1e1e" stroke-width="0.5"/>
<line x1="217.8" y1="257.16" x2="219.3" y2="257.16" stroke="#1e1e1e" stroke-width="0.5"/>
<line x1="217.8" y1="254.23" x2="219.3" y2="254.23" stroke="#1e1e1e" stroke-width="0.5"/>
<line x1="217.8" y1="251.96" x2="219.3" y2="251.96" stroke="#1e1e1e" stroke-width="0.5"/>
<line x1="217.8" y1="250.1" x2="219.3" y2="250.1" stroke="#1e1e1e" stroke-width="0.5"/>
<line x1="217.8" y1="248.53" x2="219.3" y2="248.53" stroke="#1e1e1e" stroke-width="0.5"/>
<line x1="217.8" y1="247.17" x2="219.3" y2="247.17" stroke="#1e1e1e" stroke-width="0.5"/>
<line x1="217.8" y1="245.97" x2="219.3" y2="245.97" stroke="#1e1e1e" stroke-width="0.5"/>
<line x1="217.8" y1="284.74" x2="219.3" y2="284.74" stroke="#1e1e1e" stroke-width="0.5"/>
<line x1="217.8" y1="280.61" x2="219.3" y2="280.61" stroke="#1e1e1e" stroke-width="0.5"/>
<line x1="217.8" y1="277.68" x2="219.3" y2="277.68" stroke="#1e1e1e" stroke-width="0.5"/>
<line x1="217.8" y1="275.41" x2="219.3" y2="275.41" stroke="#1e1e1e" stroke-width="0.5"/>
<line x1="217.8" y1="273.55" x2="219.3" y2="273.55" stroke="#1e1e1e" stroke-width="0.5"/>
<line x1="217.8" y1="271.98" x2="219.3" y2="271.98" stroke="#1e1e1e" stroke-width="0.5"/>
<line x1="217.8" y1="270.62" x2="219.3" y2="270.62" stroke="#1e1e1e" stroke-width="0.5"/>
<line x1="217.8" y1="269.42" x2="219.3" y2="269.42" stroke="#1e1e1e" stroke-width="0.5"/>
<line x1="217.8" y1="308.19" x2="219.3" y2="308.19" stroke="#1e1e1e" stroke-width="0.5"/>
<line x1="217.8" y1="304.06" x2="219.3" y2="304.06" stroke="#1e1e1e" stroke-width="0.5"/>
<line x1="217.8" y1="301.13" x2="219.3" y2="301.13" stroke="#1e1e1e" stroke-width="0.5"/>
<line x1="217.8" y1="298.86" x2="219.3" y2="298.86" stroke="#1e1e1e" stroke-width="0.5"/>
<line x1="217.8" y1="297.0" x2="219.3" y2="297.0" stroke="#1e1e1e" stroke-width="0.5"/>
<line x1="217.8" y1="295.43" x2="219.3" y2="295.43" stroke="#1e1e1e" stroke-width="0.5"/>
<line x1="217.8" y1="294.07" x2="219.3" y2="294.07" stroke="#1e1e1e" stroke-width="0.5"/>
<line x1="217.8" y1="292.87" x2="219.3" y2="292.87" stroke="#1e1e1e" stroke-width="0.5"/>
<line x1="217.8" y1="331.64" x2="219.3" y2="331.64" stroke="#1e1e1e" stroke-width="0.5"/>
<line x1="217.8" y1="327.51" x2="219.3" y2="327.51" stroke="#1e1e1e" stroke-width="0.5"/>
<line x1="217.8" y1="324.58" x2="219.3" y2="324.58" stroke="#1e1e1e" stroke-width="0.5"/>
<line x1="217.8" y1="322.31" x2="219.3" y2="322.31" stroke="#1e1e1e" stroke-width="0.5"/>
<line x1="217.8" y1="320.45" x2="219.3" y2="320.45" stroke="#1e1e1e" stroke-width="0.5"/>
<line x1="217.8" y1="318.88" x2="219.3" y2="318.88" stroke="#1e1e1e" stroke-width="0.5"/>
<line x1="217.8" y1="317.52" x2="219.3" y2="317.52" stroke="#1e1e1e" stroke-width="0.5"/>
<line x1="217.8" y1="316.32" x2="219.3" y2="316.32" stroke="#1e1e1e" stroke-width="0.5"/>
<line x1="217.8" y1="221.4" x2="220.4" y2="221.4" stroke="#1e1e1e" stroke-width="0.7"/>
<line x1="217.8" y1="244.9" x2="220.4" y2="244.9" stroke="#1e1e1e" stroke-width="0.7"/>
<line x1="217.8" y1="268.35" x2="220.4" y2="268.35" stroke="#1e1e1e" stroke-width="0.7"/>
<line x1="217.8" y1="291.8" x2="220.4" y2="291.8" stroke="#1e1e1e" stroke-width="0.7"/>
<line x1="217.8" y1="315.25" x2="220.4" y2="315.25" stroke="#1e1e1e" stroke-width="0.7"/>
<line x1="217.8" y1="338.7" x2="220.4" y2="338.7" stroke="#1e1e1e" stroke-width="0.7"/>
<text x="223.6" y="223.7" font-size="6.5" text-anchor="start" font-weight="normal" fill="#333333" stroke="#333333" stroke-width="0.12">100</text>
<text x="223.6" y="247.2" font-size="6.5" text-anchor="start" font-weight="normal" fill="#333333" stroke="#333333" stroke-width="0.12">10</text>
<text x="223.6" y="270.65" font-size="6.5" text-anchor="start" font-weight="normal" fill="#333333" stroke="#333333" stroke-width="0.12">1</text>
<text x="223.6" y="294.1" font-size="6.5" text-anchor="start" font-weight="normal" fill="#333333" stroke="#333333" stroke-width="0.12">0.1</text>
<text x="223.6" y="317.55" font-size="6.5" text-anchor="start" font-weight="normal" fill="#333333" stroke="#333333" stroke-width="0.12">0.01</text>
<text x="223.6" y="341.0" font-size="6.5" text-anchor="start" font-weight="normal" fill="#333333" stroke="#333333" stroke-width="0.12">0.001</text>
<line x1="40.949999999999996" y1="339.0" x2="68.2" y2="339.0" stroke="#1e1e1e" stroke-width="0.9"/>
<line x1="70.6" y1="339.0" x2="218.25" y2="339.0" stroke="#1e1e1e" stroke-width="0.9"/>
<text x="51.4" y="348.6" font-size="6.3" text-anchor="end" font-weight="normal" fill="#333333" stroke="#333333" stroke-width="0.12" transform="rotate(-45 51.4 348.6)">−1080</text>
<line x1="48.2" y1="339.0" x2="48.2" y2="341.4" stroke="#1e1e1e" stroke-width="0.6"/>
<text x="64.2" y="348.6" font-size="6.3" text-anchor="end" font-weight="normal" fill="#333333" stroke="#333333" stroke-width="0.12" transform="rotate(-45 64.2 348.6)">−360</text>
<line x1="61.0" y1="339.0" x2="61.0" y2="341.4" stroke="#1e1e1e" stroke-width="0.6"/>
<text x="76.0" y="348.6" font-size="6.3" text-anchor="end" font-weight="normal" fill="#333333" stroke="#333333" stroke-width="0.12" transform="rotate(-45 76.0 348.6)">0</text>
<line x1="72.8" y1="339.0" x2="72.8" y2="341.4" stroke="#1e1e1e" stroke-width="0.6"/>
<text x="103.5" y="348.6" font-size="6.3" text-anchor="end" font-weight="normal" fill="#333333" stroke="#333333" stroke-width="0.12" transform="rotate(-45 103.5 348.6)">180</text>
<line x1="100.3" y1="339.0" x2="100.3" y2="341.4" stroke="#1e1e1e" stroke-width="0.6"/>
<text x="131.0" y="348.6" font-size="6.3" text-anchor="end" font-weight="normal" fill="#333333" stroke="#333333" stroke-width="0.12" transform="rotate(-45 131.0 348.6)">360</text>
<line x1="127.8" y1="339.0" x2="127.8" y2="341.4" stroke="#1e1e1e" stroke-width="0.6"/>
<text x="158.5" y="348.6" font-size="6.3" text-anchor="end" font-weight="normal" fill="#333333" stroke="#333333" stroke-width="0.12" transform="rotate(-45 158.5 348.6)">540</text>
<line x1="155.3" y1="339.0" x2="155.3" y2="341.4" stroke="#1e1e1e" stroke-width="0.6"/>
<text x="186.0" y="348.6" font-size="6.3" text-anchor="end" font-weight="normal" fill="#333333" stroke="#333333" stroke-width="0.12" transform="rotate(-45 186.0 348.6)">720</text>
<line x1="182.8" y1="339.0" x2="182.8" y2="341.4" stroke="#1e1e1e" stroke-width="0.6"/>
<text x="213.5" y="348.6" font-size="6.3" text-anchor="end" font-weight="normal" fill="#333333" stroke="#333333" stroke-width="0.12" transform="rotate(-45 213.5 348.6)">900</text>
<line x1="210.3" y1="339.0" x2="210.3" y2="341.4" stroke="#1e1e1e" stroke-width="0.6"/>
<line x1="72.8" y1="222" x2="72.8" y2="339.0" stroke="#3c3c3c" stroke-width="0.85" stroke-dasharray="1.7 2.1"/>
<line x1="115.7" y1="222" x2="115.7" y2="339.0" stroke="#3c3c3c" stroke-width="0.85" stroke-dasharray="1.7 2.1"/>
<line x1="41.4" y1="308.6" x2="217.8" y2="308.6" stroke="#a9a59c" stroke-width="0.6" stroke-dasharray="1 1.6"/>
<text x="68.2" y="217.4" font-size="7.2" fill="#333333" stroke="#333333" stroke-width="0.12" textLength="43.4" lengthAdjust="spacingAndGlyphs">3 × 10<tspan font-size="3.9600000000000004" dy="-2.9">6</tspan><tspan dy="2.9"> cells/kg</tspan></text>
<text x="51.1" y="336.6" font-size="6.5" text-anchor="middle" font-weight="normal" fill="#333333" stroke="#333333" stroke-width="0.12" textLength="12.0" lengthAdjust="spacingAndGlyphs">0.00</text>
<text x="79.2" y="336.6" font-size="6.5" text-anchor="middle" font-weight="normal" fill="#333333" stroke="#333333" stroke-width="0.12" textLength="12.0" lengthAdjust="spacingAndGlyphs">0.00</text>
<text x="129.1" y="372.8" font-size="8.4" text-anchor="middle" font-weight="normal" fill="#333333" stroke="#333333" stroke-width="0.2" textLength="54.3" lengthAdjust="spacingAndGlyphs">Days post infusion</text>
<text x="15.6" y="278.8" font-size="8.4" text-anchor="middle" font-weight="normal" fill="#333333" stroke="#333333" stroke-width="0.2" textLength="74.8" lengthAdjust="spacingAndGlyphs" transform="rotate(-90 15.6 278.8)">Marrow blasts (% of WBC)</text>
<text x="245.4" y="278.3" font-size="8.4" text-anchor="middle" font-weight="normal" fill="#333333" stroke="#333333" stroke-width="0.2" textLength="64.3" lengthAdjust="spacingAndGlyphs" transform="rotate(90 245.4 278.3)">CD3<tspan font-size="5.6" dy="-2.6">+</tspan><tspan dy="2.6">CD34</tspan><tspan font-size="5.6" dy="-2.6">+</tspan><tspan dy="2.6"> T cells/μl</tspan></text>
<polyline points="42.0,230.0 42.4,339.0 61.0,339.0 65.0,222.0 65.6,275.7 66.8,339.0 72.9,339.0 74.6,339.0 76.3,339.0 78.6,339.0 80.9,339.0 85.6,339.0 100.2,309.0 103.8,297.0 111.5,322.6 114.1,313.7 115.9,307.3 117.9,295.9 120.8,289.2 125.9,288.4 136.5,287.0 147.3,293.9 167.5,321.4 181.8,284.2 192.2,278.6 199.5,268.7 206.6,235.0 210.9,286.0 216.7,272.2 219.0,268.4" fill="none" stroke="#c02c4c" stroke-width="0.9" stroke-linejoin="round"/>
<polyline points="72.9,309.0 73.7,286.6 74.3,289.4 75.4,278.4 76.4,281.3 77.8,280.3 79.4,285.4 81.5,283.7 83.5,286.4 85.5,285.8 100.4,304.0 103.9,298.2 106.8,298.2 110.4,286.0 114.2,282.0 115.8,264.9 116.1,266.8 117.4,268.7 118.4,271.9 119.3,278.3 120.4,274.6 121.9,270.8 124.0,275.1 126.8,280.6 129.7,281.0 135.8,286.8 142.7,269.9 145.7,279.7 159.5,275.1 170.9,281.3 184.6,287.7 199.5,282.0 206.7,289.6 216.7,287.7" fill="none" stroke="#375d84" stroke-width="0.9" stroke-linejoin="round"/>
<circle cx="42.0" cy="230.0" r="1.35" fill="#7a1028"/>
<circle cx="42.4" cy="339.0" r="1.35" fill="#7a1028"/>
<circle cx="61.0" cy="339.0" r="1.35" fill="#7a1028"/>
<circle cx="65.0" cy="222.0" r="1.35" fill="#7a1028"/>
<circle cx="65.6" cy="275.7" r="1.35" fill="#7a1028"/>
<circle cx="66.8" cy="339.0" r="1.35" fill="#7a1028"/>
<circle cx="72.9" cy="339.0" r="1.35" fill="#7a1028"/>
<circle cx="74.6" cy="339.0" r="1.35" fill="#7a1028"/>
<circle cx="76.3" cy="339.0" r="1.35" fill="#7a1028"/>
<circle cx="78.6" cy="339.0" r="1.35" fill="#7a1028"/>
<circle cx="80.9" cy="339.0" r="1.35" fill="#7a1028"/>
<circle cx="85.6" cy="339.0" r="1.35" fill="#7a1028"/>
<circle cx="100.2" cy="309.0" r="1.35" fill="#7a1028"/>
<circle cx="103.8" cy="297.0" r="1.35" fill="#7a1028"/>
<circle cx="111.5" cy="322.6" r="1.35" fill="#7a1028"/>
<circle cx="114.1" cy="313.7" r="1.35" fill="#7a1028"/>
<circle cx="115.9" cy="307.3" r="1.35" fill="#7a1028"/>
<circle cx="117.9" cy="295.9" r="1.35" fill="#7a1028"/>
<circle cx="120.8" cy="289.2" r="1.35" fill="#7a1028"/>
<circle cx="125.9" cy="288.4" r="1.35" fill="#7a1028"/>
<circle cx="136.5" cy="287.0" r="1.35" fill="#7a1028"/>
<circle cx="147.3" cy="293.9" r="1.35" fill="#7a1028"/>
<circle cx="167.5" cy="321.4" r="1.35" fill="#7a1028"/>
<circle cx="181.8" cy="284.2" r="1.35" fill="#7a1028"/>
<circle cx="192.2" cy="278.6" r="1.35" fill="#7a1028"/>
<circle cx="199.5" cy="268.7" r="1.35" fill="#7a1028"/>
<circle cx="206.6" cy="235.0" r="1.35" fill="#7a1028"/>
<circle cx="210.9" cy="286.0" r="1.35" fill="#7a1028"/>
<circle cx="216.7" cy="272.2" r="1.35" fill="#7a1028"/>
<circle cx="66.8" cy="322.5" r="1.35" fill="#15263e"/>
<circle cx="72.9" cy="309.0" r="1.35" fill="#15263e"/>
<circle cx="73.7" cy="286.6" r="1.35" fill="#15263e"/>
<circle cx="74.3" cy="289.4" r="1.35" fill="#15263e"/>
<circle cx="75.4" cy="278.4" r="1.35" fill="#15263e"/>
<circle cx="76.4" cy="281.3" r="1.35" fill="#15263e"/>
<circle cx="77.8" cy="280.3" r="1.35" fill="#15263e"/>
<circle cx="79.4" cy="285.4" r="1.35" fill="#15263e"/>
<circle cx="81.5" cy="283.7" r="1.35" fill="#15263e"/>
<circle cx="83.5" cy="286.4" r="1.35" fill="#15263e"/>
<circle cx="85.5" cy="285.8" r="1.35" fill="#15263e"/>
<circle cx="100.4" cy="304.0" r="1.35" fill="#15263e"/>
<circle cx="103.9" cy="298.2" r="1.35" fill="#15263e"/>
<circle cx="106.8" cy="298.2" r="1.35" fill="#15263e"/>
<circle cx="110.4" cy="286.0" r="1.35" fill="#15263e"/>
<circle cx="114.2" cy="282.0" r="1.35" fill="#15263e"/>
<circle cx="115.8" cy="264.9" r="1.35" fill="#15263e"/>
<circle cx="116.1" cy="266.8" r="1.35" fill="#15263e"/>
<circle cx="117.4" cy="268.7" r="1.35" fill="#15263e"/>
<circle cx="118.4" cy="271.9" r="1.35" fill="#15263e"/>
<circle cx="119.3" cy="278.3" r="1.35" fill="#15263e"/>
<circle cx="120.4" cy="274.6" r="1.35" fill="#15263e"/>
<circle cx="121.9" cy="270.8" r="1.35" fill="#15263e"/>
<circle cx="124.0" cy="275.1" r="1.35" fill="#15263e"/>
<circle cx="126.8" cy="280.6" r="1.35" fill="#15263e"/>
<circle cx="129.7" cy="281.0" r="1.35" fill="#15263e"/>
<circle cx="135.8" cy="286.8" r="1.35" fill="#15263e"/>
<circle cx="142.7" cy="269.9" r="1.35" fill="#15263e"/>
<circle cx="145.7" cy="279.7" r="1.35" fill="#15263e"/>
<circle cx="159.5" cy="275.1" r="1.35" fill="#15263e"/>
<circle cx="170.9" cy="281.3" r="1.35" fill="#15263e"/>
<circle cx="184.6" cy="287.7" r="1.35" fill="#15263e"/>
<circle cx="199.5" cy="282.0" r="1.35" fill="#15263e"/>
<circle cx="206.7" cy="289.6" r="1.35" fill="#15263e"/>
<text x="268.9" y="205.6" font-size="11.0" text-anchor="start" font-weight="bold" fill="#111" stroke="#111" stroke-width="0.35" textLength="7.5" lengthAdjust="spacingAndGlyphs">D</text>
<line x1="302.6" y1="218.8" x2="302.6" y2="339.0" stroke="#1e1e1e" stroke-width="0.9"/>
<line x1="301.1" y1="241.91" x2="302.6" y2="241.91" stroke="#1e1e1e" stroke-width="0.5"/>
<line x1="301.1" y1="236.77" x2="302.6" y2="236.77" stroke="#1e1e1e" stroke-width="0.5"/>
<line x1="301.1" y1="233.12" x2="302.6" y2="233.12" stroke="#1e1e1e" stroke-width="0.5"/>
<line x1="301.1" y1="230.29" x2="302.6" y2="230.29" stroke="#1e1e1e" stroke-width="0.5"/>
<line x1="301.1" y1="227.98" x2="302.6" y2="227.98" stroke="#1e1e1e" stroke-width="0.5"/>
<line x1="301.1" y1="226.02" x2="302.6" y2="226.02" stroke="#1e1e1e" stroke-width="0.5"/>
<line x1="301.1" y1="224.33" x2="302.6" y2="224.33" stroke="#1e1e1e" stroke-width="0.5"/>
<line x1="301.1" y1="222.84" x2="302.6" y2="222.84" stroke="#1e1e1e" stroke-width="0.5"/>
<line x1="301.1" y1="271.11" x2="302.6" y2="271.11" stroke="#1e1e1e" stroke-width="0.5"/>
<line x1="301.1" y1="265.97" x2="302.6" y2="265.97" stroke="#1e1e1e" stroke-width="0.5"/>
<line x1="301.1" y1="262.32" x2="302.6" y2="262.32" stroke="#1e1e1e" stroke-width="0.5"/>
<line x1="301.1" y1="259.49" x2="302.6" y2="259.49" stroke="#1e1e1e" stroke-width="0.5"/>
<line x1="301.1" y1="257.18" x2="302.6" y2="257.18" stroke="#1e1e1e" stroke-width="0.5"/>
<line x1="301.1" y1="255.22" x2="302.6" y2="255.22" stroke="#1e1e1e" stroke-width="0.5"/>
<line x1="301.1" y1="253.53" x2="302.6" y2="253.53" stroke="#1e1e1e" stroke-width="0.5"/>
<line x1="301.1" y1="252.04" x2="302.6" y2="252.04" stroke="#1e1e1e" stroke-width="0.5"/>
<line x1="301.1" y1="300.31" x2="302.6" y2="300.31" stroke="#1e1e1e" stroke-width="0.5"/>
<line x1="301.1" y1="295.17" x2="302.6" y2="295.17" stroke="#1e1e1e" stroke-width="0.5"/>
<line x1="301.1" y1="291.52" x2="302.6" y2="291.52" stroke="#1e1e1e" stroke-width="0.5"/>
<line x1="301.1" y1="288.69" x2="302.6" y2="288.69" stroke="#1e1e1e" stroke-width="0.5"/>
<line x1="301.1" y1="286.38" x2="302.6" y2="286.38" stroke="#1e1e1e" stroke-width="0.5"/>
<line x1="301.1" y1="284.42" x2="302.6" y2="284.42" stroke="#1e1e1e" stroke-width="0.5"/>
<line x1="301.1" y1="282.73" x2="302.6" y2="282.73" stroke="#1e1e1e" stroke-width="0.5"/>
<line x1="301.1" y1="281.24" x2="302.6" y2="281.24" stroke="#1e1e1e" stroke-width="0.5"/>
<line x1="301.1" y1="329.58" x2="302.6" y2="329.58" stroke="#1e1e1e" stroke-width="0.5"/>
<line x1="301.1" y1="324.42" x2="302.6" y2="324.42" stroke="#1e1e1e" stroke-width="0.5"/>
<line x1="301.1" y1="320.76" x2="302.6" y2="320.76" stroke="#1e1e1e" stroke-width="0.5"/>
<line x1="301.1" y1="317.92" x2="302.6" y2="317.92" stroke="#1e1e1e" stroke-width="0.5"/>
<line x1="301.1" y1="315.6" x2="302.6" y2="315.6" stroke="#1e1e1e" stroke-width="0.5"/>
<line x1="301.1" y1="313.64" x2="302.6" y2="313.64" stroke="#1e1e1e" stroke-width="0.5"/>
<line x1="301.1" y1="311.94" x2="302.6" y2="311.94" stroke="#1e1e1e" stroke-width="0.5"/>
<line x1="301.1" y1="310.44" x2="302.6" y2="310.44" stroke="#1e1e1e" stroke-width="0.5"/>
<line x1="300.0" y1="221.5" x2="302.6" y2="221.5" stroke="#1e1e1e" stroke-width="0.7"/>
<line x1="300.0" y1="250.7" x2="302.6" y2="250.7" stroke="#1e1e1e" stroke-width="0.7"/>
<line x1="300.0" y1="279.9" x2="302.6" y2="279.9" stroke="#1e1e1e" stroke-width="0.7"/>
<line x1="300.0" y1="309.1" x2="302.6" y2="309.1" stroke="#1e1e1e" stroke-width="0.7"/>
<line x1="300.0" y1="338.4" x2="302.6" y2="338.4" stroke="#1e1e1e" stroke-width="0.7"/>
<text x="297.0" y="223.8" font-size="6.5" text-anchor="end" font-weight="normal" fill="#333333" stroke="#333333" stroke-width="0.12">10</text>
<text x="297.0" y="253.0" font-size="6.5" text-anchor="end" font-weight="normal" fill="#333333" stroke="#333333" stroke-width="0.12">1</text>
<text x="297.0" y="282.2" font-size="6.5" text-anchor="end" font-weight="normal" fill="#333333" stroke="#333333" stroke-width="0.12">0.1</text>
<text x="297.0" y="311.4" font-size="6.5" text-anchor="end" font-weight="normal" fill="#333333" stroke="#333333" stroke-width="0.12">0.01</text>
<text x="297.0" y="340.7" font-size="6.5" text-anchor="end" font-weight="normal" fill="#333333" stroke="#333333" stroke-width="0.12">0.001</text>
<line x1="479.2" y1="218.8" x2="479.2" y2="339.0" stroke="#1e1e1e" stroke-width="0.9"/>
<line x1="479.2" y1="248.86" x2="480.7" y2="248.86" stroke="#1e1e1e" stroke-width="0.5"/>
<line x1="479.2" y1="241.99" x2="480.7" y2="241.99" stroke="#1e1e1e" stroke-width="0.5"/>
<line x1="479.2" y1="237.12" x2="480.7" y2="237.12" stroke="#1e1e1e" stroke-width="0.5"/>
<line x1="479.2" y1="233.34" x2="480.7" y2="233.34" stroke="#1e1e1e" stroke-width="0.5"/>
<line x1="479.2" y1="230.25" x2="480.7" y2="230.25" stroke="#1e1e1e" stroke-width="0.5"/>
<line x1="479.2" y1="227.64" x2="480.7" y2="227.64" stroke="#1e1e1e" stroke-width="0.5"/>
<line x1="479.2" y1="225.38" x2="480.7" y2="225.38" stroke="#1e1e1e" stroke-width="0.5"/>
<line x1="479.2" y1="223.38" x2="480.7" y2="223.38" stroke="#1e1e1e" stroke-width="0.5"/>
<line x1="479.2" y1="287.86" x2="480.7" y2="287.86" stroke="#1e1e1e" stroke-width="0.5"/>
<line x1="479.2" y1="280.99" x2="480.7" y2="280.99" stroke="#1e1e1e" stroke-width="0.5"/>
<line x1="479.2" y1="276.12" x2="480.7" y2="276.12" stroke="#1e1e1e" stroke-width="0.5"/>
<line x1="479.2" y1="272.34" x2="480.7" y2="272.34" stroke="#1e1e1e" stroke-width="0.5"/>
<line x1="479.2" y1="269.25" x2="480.7" y2="269.25" stroke="#1e1e1e" stroke-width="0.5"/>
<line x1="479.2" y1="266.64" x2="480.7" y2="266.64" stroke="#1e1e1e" stroke-width="0.5"/>
<line x1="479.2" y1="264.38" x2="480.7" y2="264.38" stroke="#1e1e1e" stroke-width="0.5"/>
<line x1="479.2" y1="262.38" x2="480.7" y2="262.38" stroke="#1e1e1e" stroke-width="0.5"/>
<line x1="479.2" y1="326.86" x2="480.7" y2="326.86" stroke="#1e1e1e" stroke-width="0.5"/>
<line x1="479.2" y1="319.99" x2="480.7" y2="319.99" stroke="#1e1e1e" stroke-width="0.5"/>
<line x1="479.2" y1="315.12" x2="480.7" y2="315.12" stroke="#1e1e1e" stroke-width="0.5"/>
<line x1="479.2" y1="311.34" x2="480.7" y2="311.34" stroke="#1e1e1e" stroke-width="0.5"/>
<line x1="479.2" y1="308.25" x2="480.7" y2="308.25" stroke="#1e1e1e" stroke-width="0.5"/>
<line x1="479.2" y1="305.64" x2="480.7" y2="305.64" stroke="#1e1e1e" stroke-width="0.5"/>
<line x1="479.2" y1="303.38" x2="480.7" y2="303.38" stroke="#1e1e1e" stroke-width="0.5"/>
<line x1="479.2" y1="301.38" x2="480.7" y2="301.38" stroke="#1e1e1e" stroke-width="0.5"/>
<line x1="479.2" y1="221.6" x2="481.8" y2="221.6" stroke="#1e1e1e" stroke-width="0.7"/>
<line x1="479.2" y1="260.6" x2="481.8" y2="260.6" stroke="#1e1e1e" stroke-width="0.7"/>
<line x1="479.2" y1="299.6" x2="481.8" y2="299.6" stroke="#1e1e1e" stroke-width="0.7"/>
<line x1="479.2" y1="338.6" x2="481.8" y2="338.6" stroke="#1e1e1e" stroke-width="0.7"/>
<text x="485.0" y="223.9" font-size="6.5" text-anchor="start" font-weight="normal" fill="#333333" stroke="#333333" stroke-width="0.12">10</text>
<text x="485.0" y="262.9" font-size="6.5" text-anchor="start" font-weight="normal" fill="#333333" stroke="#333333" stroke-width="0.12">1</text>
<text x="485.0" y="301.9" font-size="6.5" text-anchor="start" font-weight="normal" fill="#333333" stroke="#333333" stroke-width="0.12">0.1</text>
<text x="485.0" y="340.9" font-size="6.5" text-anchor="start" font-weight="normal" fill="#333333" stroke="#333333" stroke-width="0.12">0.01</text>
<line x1="302.15000000000003" y1="339.0" x2="337.4" y2="339.0" stroke="#1e1e1e" stroke-width="0.9"/>
<line x1="340.0" y1="339.0" x2="479.65" y2="339.0" stroke="#1e1e1e" stroke-width="0.9"/>
<text x="305.7" y="348.6" font-size="6.0" text-anchor="end" font-weight="normal" fill="#333333" stroke="#333333" stroke-width="0.12" transform="rotate(-45 305.7 348.6)">−360</text>
<line x1="302.5" y1="339.0" x2="302.5" y2="341.4" stroke="#1e1e1e" stroke-width="0.6"/>
<text x="315.1" y="348.6" font-size="6.0" text-anchor="end" font-weight="normal" fill="#333333" stroke="#333333" stroke-width="0.12" transform="rotate(-45 315.1 348.6)">−270</text>
<line x1="311.9" y1="339.0" x2="311.9" y2="341.4" stroke="#1e1e1e" stroke-width="0.6"/>
<text x="324.5" y="348.6" font-size="6.0" text-anchor="end" font-weight="normal" fill="#333333" stroke="#333333" stroke-width="0.12" transform="rotate(-45 324.5 348.6)">−180</text>
<line x1="321.3" y1="339.0" x2="321.3" y2="341.4" stroke="#1e1e1e" stroke-width="0.6"/>
<text x="333.9" y="348.6" font-size="6.0" text-anchor="end" font-weight="normal" fill="#333333" stroke="#333333" stroke-width="0.12" transform="rotate(-45 333.9 348.6)">−90</text>
<line x1="330.7" y1="339.0" x2="330.7" y2="341.4" stroke="#1e1e1e" stroke-width="0.6"/>
<text x="350.4" y="348.6" font-size="6.0" text-anchor="end" font-weight="normal" fill="#333333" stroke="#333333" stroke-width="0.12" transform="rotate(-45 350.4 348.6)">0</text>
<line x1="347.2" y1="339.0" x2="347.2" y2="341.4" stroke="#1e1e1e" stroke-width="0.6"/>
<text x="359.09" y="348.6" font-size="6.0" text-anchor="end" font-weight="normal" fill="#333333" stroke="#333333" stroke-width="0.12" transform="rotate(-45 359.09 348.6)">28</text>
<line x1="355.89" y1="339.0" x2="355.89" y2="341.4" stroke="#1e1e1e" stroke-width="0.6"/>
<text x="367.77" y="348.6" font-size="6.0" text-anchor="end" font-weight="normal" fill="#333333" stroke="#333333" stroke-width="0.12" transform="rotate(-45 367.77 348.6)">56</text>
<line x1="364.57" y1="339.0" x2="364.57" y2="341.4" stroke="#1e1e1e" stroke-width="0.6"/>
<text x="376.46" y="348.6" font-size="6.0" text-anchor="end" font-weight="normal" fill="#333333" stroke="#333333" stroke-width="0.12" transform="rotate(-45 376.46 348.6)">84</text>
<line x1="373.26" y1="339.0" x2="373.26" y2="341.4" stroke="#1e1e1e" stroke-width="0.6"/>
<text x="385.14" y="348.6" font-size="6.0" text-anchor="end" font-weight="normal" fill="#333333" stroke="#333333" stroke-width="0.12" transform="rotate(-45 385.14 348.6)">112</text>
<line x1="381.94" y1="339.0" x2="381.94" y2="341.4" stroke="#1e1e1e" stroke-width="0.6"/>
<text x="393.83" y="348.6" font-size="6.0" text-anchor="end" font-weight="normal" fill="#333333" stroke="#333333" stroke-width="0.12" transform="rotate(-45 393.83 348.6)">140</text>
<line x1="390.63" y1="339.0" x2="390.63" y2="341.4" stroke="#1e1e1e" stroke-width="0.6"/>
<text x="402.51" y="348.6" font-size="6.0" text-anchor="end" font-weight="normal" fill="#333333" stroke="#333333" stroke-width="0.12" transform="rotate(-45 402.51 348.6)">168</text>
<line x1="399.31" y1="339.0" x2="399.31" y2="341.4" stroke="#1e1e1e" stroke-width="0.6"/>
<text x="411.2" y="348.6" font-size="6.0" text-anchor="end" font-weight="normal" fill="#333333" stroke="#333333" stroke-width="0.12" transform="rotate(-45 411.2 348.6)">196</text>
<line x1="408.0" y1="339.0" x2="408.0" y2="341.4" stroke="#1e1e1e" stroke-width="0.6"/>
<text x="419.88" y="348.6" font-size="6.0" text-anchor="end" font-weight="normal" fill="#333333" stroke="#333333" stroke-width="0.12" transform="rotate(-45 419.88 348.6)">224</text>
<line x1="416.68" y1="339.0" x2="416.68" y2="341.4" stroke="#1e1e1e" stroke-width="0.6"/>
<text x="428.57" y="348.6" font-size="6.0" text-anchor="end" font-weight="normal" fill="#333333" stroke="#333333" stroke-width="0.12" transform="rotate(-45 428.57 348.6)">252</text>
<line x1="425.37" y1="339.0" x2="425.37" y2="341.4" stroke="#1e1e1e" stroke-width="0.6"/>
<text x="437.26" y="348.6" font-size="6.0" text-anchor="end" font-weight="normal" fill="#333333" stroke="#333333" stroke-width="0.12" transform="rotate(-45 437.26 348.6)">280</text>
<line x1="434.06" y1="339.0" x2="434.06" y2="341.4" stroke="#1e1e1e" stroke-width="0.6"/>
<text x="445.94" y="348.6" font-size="6.0" text-anchor="end" font-weight="normal" fill="#333333" stroke="#333333" stroke-width="0.12" transform="rotate(-45 445.94 348.6)">308</text>
<line x1="442.74" y1="339.0" x2="442.74" y2="341.4" stroke="#1e1e1e" stroke-width="0.6"/>
<text x="454.63" y="348.6" font-size="6.0" text-anchor="end" font-weight="normal" fill="#333333" stroke="#333333" stroke-width="0.12" transform="rotate(-45 454.63 348.6)">336</text>
<line x1="451.43" y1="339.0" x2="451.43" y2="341.4" stroke="#1e1e1e" stroke-width="0.6"/>
<text x="463.31" y="348.6" font-size="6.0" text-anchor="end" font-weight="normal" fill="#333333" stroke="#333333" stroke-width="0.12" transform="rotate(-45 463.31 348.6)">364</text>
<line x1="460.11" y1="339.0" x2="460.11" y2="341.4" stroke="#1e1e1e" stroke-width="0.6"/>
<text x="472.0" y="348.6" font-size="6.0" text-anchor="end" font-weight="normal" fill="#333333" stroke="#333333" stroke-width="0.12" transform="rotate(-45 472.0 348.6)">392</text>
<line x1="468.8" y1="339.0" x2="468.8" y2="341.4" stroke="#1e1e1e" stroke-width="0.6"/>
<text x="480.68" y="348.6" font-size="6.0" text-anchor="end" font-weight="normal" fill="#333333" stroke="#333333" stroke-width="0.12" transform="rotate(-45 480.68 348.6)">420</text>
<line x1="477.48" y1="339.0" x2="477.48" y2="341.4" stroke="#1e1e1e" stroke-width="0.6"/>
<line x1="321.5" y1="221.5" x2="321.5" y2="339" stroke="#4a4a4a" stroke-width="0.8" stroke-dasharray="3 1.5 0.8 1.5"/>
<line x1="347.0" y1="221.5" x2="347.0" y2="339.0" stroke="#3c3c3c" stroke-width="0.85" stroke-dasharray="1.7 2.1"/>
<line x1="302.6" y1="327.4" x2="479.2" y2="327.4" stroke="#a9a59c" stroke-width="0.6" stroke-dasharray="1 1.6"/>
<text x="321.2" y="217.0" font-size="7.2" text-anchor="middle" font-weight="normal" fill="#333333" stroke="#333333" stroke-width="0.12" textLength="12.3" lengthAdjust="spacingAndGlyphs">HCT</text>
<text x="337.9" y="217.0" font-size="7.2" fill="#333333" stroke="#333333" stroke-width="0.12" textLength="47.0" lengthAdjust="spacingAndGlyphs">30 × 10<tspan font-size="3.9600000000000004" dy="-2.9">6</tspan><tspan dy="2.9"> cells/kg</tspan></text>
<text x="347.3" y="336.9" font-size="6.5" text-anchor="middle" font-weight="normal" fill="#333333" stroke="#333333" stroke-width="0.12" textLength="12.4" lengthAdjust="spacingAndGlyphs">0.00</text>
<text x="382.6" y="336.9" font-size="6.5" text-anchor="middle" font-weight="normal" fill="#333333" stroke="#333333" stroke-width="0.12" textLength="12.4" lengthAdjust="spacingAndGlyphs">0.00</text>
<text x="403.6" y="336.9" font-size="6.5" text-anchor="middle" font-weight="normal" fill="#333333" stroke="#333333" stroke-width="0.12" textLength="12.4" lengthAdjust="spacingAndGlyphs">0.00</text>
<text x="452.7" y="336.9" font-size="6.5" text-anchor="middle" font-weight="normal" fill="#333333" stroke="#333333" stroke-width="0.12" textLength="12.4" lengthAdjust="spacingAndGlyphs">0.00</text>
<text x="473.5" y="336.9" font-size="6.5" text-anchor="middle" font-weight="normal" fill="#333333" stroke="#333333" stroke-width="0.12" textLength="12.4" lengthAdjust="spacingAndGlyphs">0.00</text>
<text x="390.8" y="370.0" font-size="8.4" text-anchor="middle" font-weight="normal" fill="#333333" stroke="#333333" stroke-width="0.2" textLength="54.4" lengthAdjust="spacingAndGlyphs">Days post infusion</text>
<text x="277.4" y="276.1" font-size="8.4" text-anchor="middle" font-weight="normal" fill="#333333" stroke="#333333" stroke-width="0.2" textLength="72.1" lengthAdjust="spacingAndGlyphs" transform="rotate(-90 277.4 276.1)">Marrow blasts (% of WBC)</text>
<text x="502.8" y="278.8" font-size="8.4" text-anchor="middle" font-weight="normal" fill="#333333" stroke="#333333" stroke-width="0.2" textLength="65.3" lengthAdjust="spacingAndGlyphs" transform="rotate(90 502.8 278.8)">CD3<tspan font-size="5.6" dy="-2.6">+</tspan><tspan dy="2.6">CD34</tspan><tspan font-size="5.6" dy="-2.6">+</tspan><tspan dy="2.6"> T cells/μl</tspan></text>
<polyline points="308.7,225.8 316.2,239.1 321.7,257.6 330.1,284.8 337.0,315.5" fill="none" stroke="#c02c4c" stroke-width="0.9" stroke-linejoin="round"/>
<polyline points="341.5,339.0 348.1,339.0 352.3,339.0 356.4,339.0 382.6,339.0 404.0,339.0 452.7,339.0 474.4,339.0" fill="none" stroke="#c02c4c" stroke-width="0.9" stroke-linejoin="round"/>
<polyline points="342.4,327.4 347.4,272.7 347.9,249.0 350.7,244.1 353.1,256.5 354.8,301.2 357.2,302.8 360.2,317.7 364.7,297.9 382.5,306.9 403.6,289.2 452.8,276.3 473.9,281.8" fill="none" stroke="#375d84" stroke-width="0.9" stroke-linejoin="round"/>
<circle cx="308.7" cy="225.8" r="1.35" fill="#7a1028"/>
<circle cx="316.2" cy="239.1" r="1.35" fill="#7a1028"/>
<circle cx="330.1" cy="284.8" r="1.35" fill="#7a1028"/>
<circle cx="341.5" cy="339.0" r="1.35" fill="#7a1028"/>
<circle cx="348.1" cy="339.0" r="1.35" fill="#7a1028"/>
<circle cx="352.3" cy="339.0" r="1.35" fill="#7a1028"/>
<circle cx="356.4" cy="339.0" r="1.35" fill="#7a1028"/>
<circle cx="382.6" cy="339.0" r="1.35" fill="#7a1028"/>
<circle cx="404.0" cy="339.0" r="1.35" fill="#7a1028"/>
<circle cx="452.7" cy="339.0" r="1.35" fill="#7a1028"/>
<circle cx="474.4" cy="339.0" r="1.35" fill="#7a1028"/>
<circle cx="342.4" cy="327.4" r="1.35" fill="#15263e"/>
<circle cx="347.4" cy="272.7" r="1.35" fill="#15263e"/>
<circle cx="347.9" cy="249.0" r="1.35" fill="#15263e"/>
<circle cx="350.7" cy="244.1" r="1.35" fill="#15263e"/>
<circle cx="353.1" cy="256.5" r="1.35" fill="#15263e"/>
<circle cx="354.8" cy="301.2" r="1.35" fill="#15263e"/>
<circle cx="357.2" cy="302.8" r="1.35" fill="#15263e"/>
<circle cx="360.2" cy="317.7" r="1.35" fill="#15263e"/>
<circle cx="364.7" cy="297.9" r="1.35" fill="#15263e"/>
<circle cx="382.5" cy="306.9" r="1.35" fill="#15263e"/>
<circle cx="403.6" cy="289.2" r="1.35" fill="#15263e"/>
<circle cx="452.8" cy="276.3" r="1.35" fill="#15263e"/>
<circle cx="473.9" cy="281.8" r="1.35" fill="#15263e"/>
<line x1="211.0" y1="382.7" x2="219.6" y2="382.7" stroke="#375d84" stroke-width="0.9"/>
<circle cx="215.4" cy="382.7" r="1.2" fill="#15263e"/>
<text x="223.1" y="385.3" font-size="7.6" text-anchor="start" font-weight="normal" fill="#333333" stroke="#333333" stroke-width="0.12" textLength="48.5" lengthAdjust="spacingAndGlyphs">HA-1 TCR T cells</text>
<line x1="278.5" y1="382.7" x2="286.6" y2="382.7" stroke="#c02c4c" stroke-width="0.9"/>
<circle cx="282.6" cy="382.7" r="1.2" fill="#7a1028"/>
<text x="290.0" y="385.3" font-size="7.6" text-anchor="start" font-weight="normal" fill="#333333" stroke="#333333" stroke-width="0.12" textLength="16.2" lengthAdjust="spacingAndGlyphs">Blasts</text>
<rect x="0" y="0" width="520" height="1.2" fill="#5e5e5e"/>
<rect x="0" y="0" width="1.15" height="393" fill="#555"/>
<rect x="518.55" y="0" width="1.45" height="393" fill="#585858"/>
<rect x="0" y="391.55" width="520" height="1.45" fill="#5a5a5a"/>
</svg>
</body></html>
